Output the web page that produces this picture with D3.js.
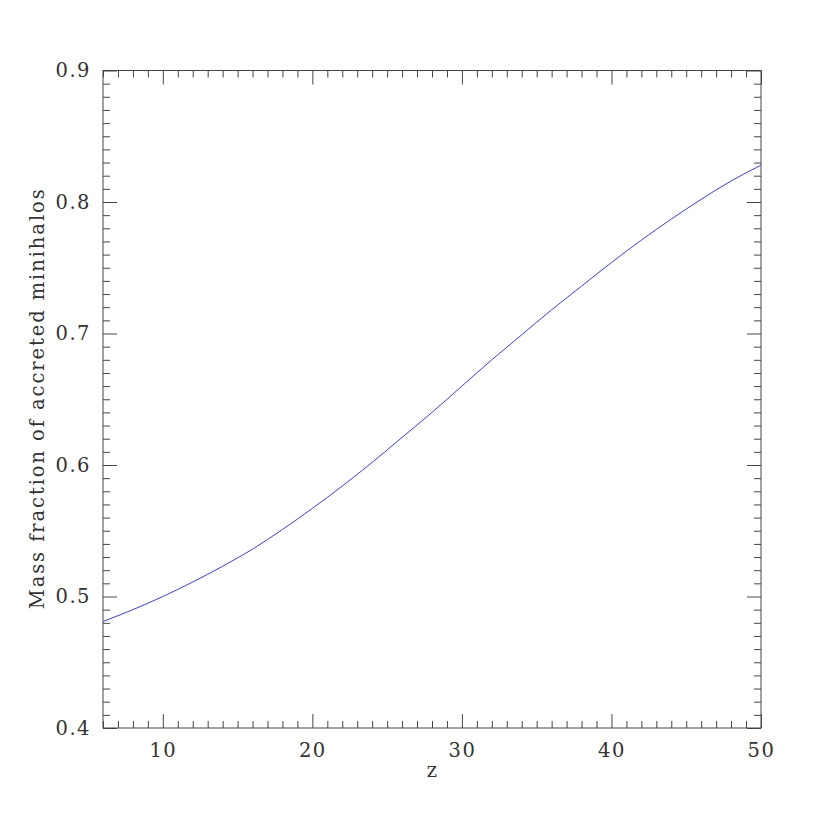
<!DOCTYPE html>
<html>
<head>
<meta charset="utf-8">
<script src="https://cdn.jsdelivr.net/npm/d3@7"></script>
<style>
  body { margin: 0; background: #fff; }
  text { font-family: "DejaVu Serif", "Liberation Serif", serif; fill: #333; }
</style>
</head>
<body>
<div id="chart"></div>
<script>
// redshift samples and accreted mass fraction
const zValues = [6, 8, 10, 12, 14, 16, 18, 20, 22, 24, 26, 28, 30,
                 32, 34, 36, 38, 40, 42, 44, 46, 48, 50];
const massFraction = [0.481, 0.490, 0.500, 0.511, 0.523, 0.536, 0.551, 0.567,
                      0.584, 0.602, 0.621, 0.640, 0.660, 0.680, 0.699, 0.718,
                      0.736, 0.754, 0.771, 0.787, 0.802, 0.816, 0.828];
const xMajorTicks = [10, 20, 30, 40, 50];
const yMajorTicks = [0.4, 0.5, 0.6, 0.7, 0.8, 0.9];
const xLabel = "z";
const yLabel = "Mass fraction of accreted minihalos";

const width = 830, height = 830;
const margin = {top: 70.5, right: 69, bottom: 102, left: 103};
const fontFamily = "DejaVu Serif";

const data = zValues.map((z, i) => ({x: z, y: massFraction[i]}));

const xScale = d3.scaleLinear()
    .domain([6, 50])
    .range([margin.left, width - margin.right]);

const yScale = d3.scaleLinear()
    .domain([0.4, 0.9])
    .range([height - margin.bottom, margin.top]);

// minor ticks every 1 in z and 0.01 in mass fraction
const xMinor = d3.range(6, 51, 1).filter(v => v % 10 !== 0);
const yMinor = d3.range(40, 91, 1).filter(v => v % 10 !== 0).map(v => v / 100);

const svg = d3.select("#chart").append("svg")
    .attr("width", width)
    .attr("height", height);

const majorLen = 14, minorLen = 7;
const bottomY = height - margin.bottom;
const rightX = width - margin.right;

function styleAxis(g) {
    g.select(".domain").remove();
    g.selectAll(".tick line").attr("stroke", "#444").attr("stroke-width", 1);
}

function styleLabels(g) {
    g.attr("font-size", 19.5).attr("font-family", fontFamily);
    g.selectAll("text").attr("fill", "#333").attr("letter-spacing", 1.5);
}

// bottom axis: labels + major ticks pointing in
svg.append("g")
    .attr("transform", "translate(0," + bottomY + ")")
    .call(d3.axisBottom(xScale).tickValues(xMajorTicks)
        .tickSizeInner(-majorLen).tickSizeOuter(0).tickPadding(15)
        .tickFormat(d3.format("d")))
    .call(styleAxis)
    .call(styleLabels);

svg.append("g")
    .attr("transform", "translate(0," + bottomY + ")")
    .call(d3.axisBottom(xScale).tickValues(xMinor)
        .tickSizeInner(-minorLen).tickSizeOuter(0).tickFormat(""))
    .call(styleAxis);

// top axis, ticks only
svg.append("g")
    .attr("transform", "translate(0," + margin.top + ")")
    .call(d3.axisTop(xScale).tickValues(xMajorTicks)
        .tickSizeInner(-majorLen).tickSizeOuter(0).tickFormat(""))
    .call(styleAxis);

svg.append("g")
    .attr("transform", "translate(0," + margin.top + ")")
    .call(d3.axisTop(xScale).tickValues(xMinor)
        .tickSizeInner(-minorLen).tickSizeOuter(0).tickFormat(""))
    .call(styleAxis);

// left axis with labels
svg.append("g")
    .attr("transform", "translate(" + margin.left + ",0)")
    .call(d3.axisLeft(yScale).tickValues(yMajorTicks)
        .tickSizeInner(-majorLen).tickSizeOuter(0).tickPadding(12)
        .tickFormat(d3.format(".1f")))
    .call(styleAxis)
    .call(styleLabels);

svg.append("g")
    .attr("transform", "translate(" + margin.left + ",0)")
    .call(d3.axisLeft(yScale).tickValues(yMinor)
        .tickSizeInner(-minorLen).tickSizeOuter(0).tickFormat(""))
    .call(styleAxis);

// right axis, ticks only
svg.append("g")
    .attr("transform", "translate(" + rightX + ",0)")
    .call(d3.axisRight(yScale).tickValues(yMajorTicks)
        .tickSizeInner(-majorLen).tickSizeOuter(0).tickFormat(""))
    .call(styleAxis);

svg.append("g")
    .attr("transform", "translate(" + rightX + ",0)")
    .call(d3.axisRight(yScale).tickValues(yMinor)
        .tickSizeInner(-minorLen).tickSizeOuter(0).tickFormat(""))
    .call(styleAxis);

// frame
svg.append("rect")
    .attr("x", margin.left)
    .attr("y", margin.top)
    .attr("width", rightX - margin.left)
    .attr("height", bottomY - margin.top)
    .attr("fill", "none")
    .attr("stroke", "#444")
    .attr("stroke-width", 1);

// the curve
const line = d3.line()
    .x(d => xScale(d.x))
    .y(d => yScale(d.y))
    .curve(d3.curveMonotoneX);

svg.append("path")
    .datum(data)
    .attr("fill", "none")
    .attr("stroke", "#3b3bff")
    .attr("stroke-width", 1)
    .attr("d", line);

// axis titles
svg.append("text")
    .attr("x", (margin.left + rightX) / 2)
    .attr("y", 777)
    .attr("text-anchor", "middle")
    .attr("font-size", 19.5)
    .text(xLabel);

svg.append("text")
    .attr("transform", "translate(44," + ((margin.top + bottomY) / 2) + ") rotate(-90)")
    .attr("text-anchor", "middle")
    .attr("font-size", 19.5)
    .attr("textLength", 420)
    .attr("lengthAdjust", "spacing")
    .text(yLabel);
</script>
</body>
</html>
